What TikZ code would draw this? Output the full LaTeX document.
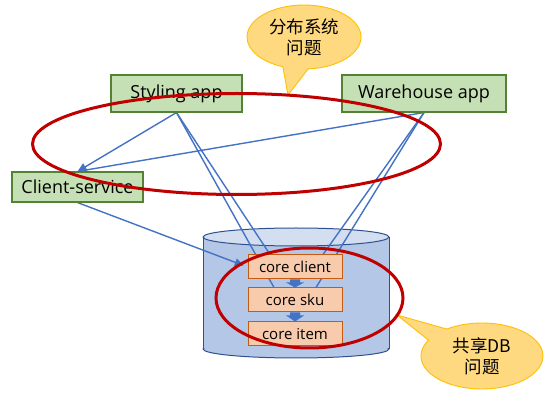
\documentclass[tikz,border=0pt]{standalone}
\usepackage{fontspec}
\setmainfont{Open Sans}
\newfontfamily\cjk{Noto Sans CJK SC}
\usetikzlibrary{shapes.geometric,shapes.callouts,arrows.meta}
\pgfdeclarelayer{bg}
\pgfdeclarelayer{fg}
\pgfsetlayers{bg,main,fg}
\definecolor{gfill}{HTML}{C5E0B4}
\definecolor{gline}{HTML}{548235}
\definecolor{cfill}{HTML}{F8CBAD}
\definecolor{cline}{HTML}{C55A11}
\definecolor{cylbody}{HTML}{B4C7E7}
\definecolor{cyltop}{HTML}{D3DEF1}
\definecolor{cylline}{HTML}{2F528F}
\definecolor{calfill}{HTML}{FFD97F}
\definecolor{calline}{HTML}{FFC000}
\definecolor{redl}{HTML}{C00000}
\definecolor{bluel}{HTML}{4472C4}
\begin{document}
\begin{tikzpicture}[x=1pt,y=-1pt,
  gbox/.style={draw=gline, fill=gfill, line width=1.1pt, inner sep=0pt, minimum height=37pt,
    font=\fontsize{18}{21}\selectfont},
  corebox/.style={draw=cline, fill=cfill, line width=1pt, inner sep=0pt, minimum width=94pt,
    minimum height=24pt, font=\fontsize{15}{18}\selectfont},
  bl/.style={draw=bluel, line width=1.4pt},
  blarrow/.style={bl, -{Triangle[length=9pt,width=8pt]}},
  fatarrow/.style={fill=bluel},
  redell/.style={ellipse, draw=redl, line width=3pt, inner sep=0pt},
  callout/.style={ellipse callout, draw=calline, fill=calfill, line width=0.9pt, inner sep=0pt,
    align=center, callout pointer arc=26, font=\cjk\fontsize{17.5}{21}\selectfont},
  cylstroke/.style={draw=cylline, line width=1pt}
]
\useasboundingbox (0,0) rectangle (555,406);

% boxes
\node[gbox, minimum width=131pt] (sty) at (176.5,93.5) {Styling app};
\node[gbox, minimum width=164pt] (wh) at (424,93.5) {Warehouse app};
\node[gbox, minimum width=131pt, minimum height=30pt] (cs) at (77.5,187) {Client-service};
\node[corebox] (cc) at (295,267) {core client};
\node[corebox] (sku) at (295,300) {core sku};
\node[corebox] (item) at (295,334) {core item};

\begin{pgfonlayer}{bg}
  \fill[white] (0,0) rectangle (555,406);
  % database cylinder
  \fill[cylbody] (203,237) rectangle (389,349);
  \fill[cylbody] (296,349) ellipse [x radius=93, y radius=9];
  \begin{scope}
    \clip (190,349) rectangle (400,372);
    \draw[cylstroke] (296,349) ellipse [x radius=93, y radius=9];
  \end{scope}
  \draw[cylstroke] (203,237) -- (203,349) (389,237) -- (389,349);
  \draw[cylstroke, fill=cyltop] (296,237) ellipse [x radius=93, y radius=9];
  % connectors
  \draw[blarrow] (sty.south) -- (cs.north);
  \draw[blarrow] (wh.south) -- (cs.north);
  \draw[blarrow, shorten >=4pt] (cs.south) -- (cc.west);
  \draw[bl] (sty.south) -- ([xshift=-25pt]cc.north);
  \draw[bl] (sty.south) -- ([xshift=-21pt]sku.north);
  \draw[bl] (wh.south) -- ([xshift=28pt]cc.north);
  \draw[bl] (wh.south) -- ([xshift=21pt]sku.north);
\end{pgfonlayer}

% block arrows between core boxes
\fill[fatarrow] ([xshift=-5pt]cc.south) -- ([xshift=-5pt,yshift=-3pt]cc.south)
  -- ([xshift=-9pt,yshift=-3pt]cc.south) -- (sku.north)
  -- ([xshift=9pt,yshift=-3pt]cc.south) -- ([xshift=5pt,yshift=-3pt]cc.south)
  -- ([xshift=5pt]cc.south) -- cycle;
\fill[fatarrow] ([xshift=-5pt]sku.south) -- ([xshift=-5pt,yshift=-3pt]sku.south)
  -- ([xshift=-9pt,yshift=-3pt]sku.south) -- (item.north)
  -- ([xshift=9pt,yshift=-3pt]sku.south) -- ([xshift=5pt,yshift=-3pt]sku.south)
  -- ([xshift=5pt]sku.south) -- cycle;

% callouts
\node[callout, minimum width=114pt, minimum height=64pt, callout absolute pointer={(288,95)}] (c1) at (304,37) {分布系统\\问题};
\node[callout, minimum width=122pt, minimum height=66pt, callout absolute pointer={(397,315)}] (c2) at (482,356) {共享DB\\问题};

\begin{pgfonlayer}{fg}
  \node[redell, minimum width=408pt, minimum height=101pt] (e1) at (236.5,144) {};
  \node[redell, minimum width=187pt, minimum height=100pt] (e2) at (309.5,298) {};
\end{pgfonlayer}
\end{tikzpicture}
\end{document}
